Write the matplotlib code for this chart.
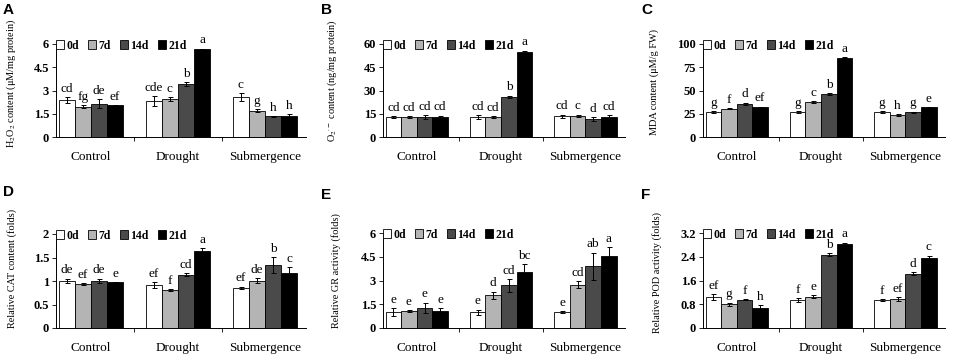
import numpy as np
import matplotlib
matplotlib.use('Agg')
import matplotlib.pyplot as plt
from matplotlib.patches import Patch

plt.rcParams['font.family'] = ['Liberation Serif', 'DejaVu Serif']
plt.rcParams['mathtext.fontset'] = 'stix'

groups = ['Control', 'Drought', 'Submergence']
days = ['0d', '7d', '14d', '21d']
colors = ['#ffffff', '#b4b4b4', '#4a4a4a', '#000000']

# values: rows = days (0d, 7d, 14d, 21d), columns = groups
h2o2 = [[2.38, 2.32, 2.58], [1.96, 2.47, 1.70], [2.15, 3.40, 1.33], [2.04, 5.68, 1.38]]
h2o2_err = [[0.2, 0.3, 0.25], [0.1, 0.12, 0.1], [0.3, 0.12, 0.03], [0.03, 0.02, 0.1]]
h2o2_let = [['cd', 'cde', 'c'], ['fg', 'c', 'g'], ['de', 'b', 'h'], ['ef', 'a', 'h']]

o2 = [[12.9, 12.9, 13.3], [12.9, 12.9, 13.8], [12.9, 26.0, 11.8], [12.9, 54.6, 12.9]]
o2_err = [[0.5, 1.2, 1.2], [0.5, 0.5, 0.6], [1.0, 0.6, 1.2], [0.9, 1.2, 1.2]]
o2_let = [['cd', 'cd', 'cd'], ['cd', 'cd', 'c'], ['cd', 'b', 'd'], ['cd', 'a', 'cd']]

mda = [[26.5, 26.5, 26.5], [30.5, 37.6, 23.7], [35.8, 46.2, 26.5], [31.9, 85.0, 31.9]]
mda_err = [[1.0, 1.0, 1.0], [0.8, 0.8, 0.8], [1.2, 0.8, 0.8], [0.6, 0.5, 0.3]]
mda_let = [['g', 'g', 'g'], ['f', 'c', 'h'], ['d', 'b', 'g'], ['ef', 'a', 'e']]

cat = [[1.00, 0.91, 0.86], [0.94, 0.80, 1.01], [1.00, 1.13, 1.34], [0.97, 1.63, 1.18]]
cat_err = [[0.05, 0.06, 0.02], [0.02, 0.02, 0.05], [0.05, 0.03, 0.17], [0.0, 0.07, 0.12]]
cat_let = [['de', 'ef', 'ef'], ['ef', 'f', 'de'], ['de', 'cd', 'b'], ['e', 'a', 'c']]

gr = [[1.00, 0.98, 1.00], [1.06, 2.08, 2.72], [1.27, 2.70, 3.90], [1.10, 3.54, 4.52]]
gr_err = [[0.25, 0.18, 0.05], [0.05, 0.22, 0.22], [0.32, 0.4, 0.85], [0.15, 0.5, 0.6]]
gr_let = [['e', 'e', 'e'], ['e', 'd', 'cd'], ['e', 'cd', 'ab'], ['e', 'bc', 'a']]

pod = [[1.03, 0.94, 0.94], [0.80, 1.06, 0.97], [0.96, 2.47, 1.83], [0.68, 2.82, 2.35]]
pod_err = [[0.1, 0.06, 0.04], [0.05, 0.04, 0.06], [0.02, 0.04, 0.04], [0.08, 0.05, 0.08]]
pod_let = [['ef', 'f', 'f'], ['g', 'e', 'ef'], ['f', 'b', 'd'], ['h', 'a', 'c']]

panels = [
    ('A', h2o2, h2o2_err, h2o2_let, 'H$_2$O$_2$ content (\u03bcM/mg protein)', [0, 1.5, 3, 4.5, 6], ['0', '1.5', '3', '4.5', '6']),
    ('B', o2, o2_err, o2_let, 'O$_2$$^{\u00b7-}$ content (ng/mg protein)', [0, 15, 30, 45, 60], ['0', '15', '30', '45', '60']),
    ('C', mda, mda_err, mda_let, 'MDA content (\u03bcM/g FW)', [0, 25, 50, 75, 100], ['0', '25', '50', '75', '100']),
    ('D', cat, cat_err, cat_let, 'Relative CAT content (folds)', [0, 0.5, 1, 1.5, 2], ['0', '0.5', '1', '1.5', '2']),
    ('E', gr, gr_err, gr_let, 'Relative GR activity (folds)', [0, 1.5, 3, 4.5, 6], ['0', '1.5', '3', '4.5', '6']),
    ('F', pod, pod_err, pod_let, 'Relative POD activity (folds)', [0, 0.8, 1.6, 2.4, 3.2], ['0', '0.8', '1.6', '2.4', '3.2']),
]

W, H = 964, 357
fig = plt.figure(figsize=(9.64, 3.57), dpi=100)

# axes boxes in pixels: left, top, right, bottom
boxes = [(56, 44, 306, 137), (383, 44, 625, 137), (703, 44, 945, 137),
         (56, 234, 306, 328), (383, 233, 625, 328), (703, 233, 945, 328)]
letter_pos = [(3, 10), (321, 10), (641, 10), (3, 192), (321, 195), (641, 195)]
ylab_x = [-0.152, -0.182, -0.182, -0.156, -0.174, -0.169]
ylab_y = [0.575, 0.6, 0.59, 0.63, 0.6, 0.58]

x = np.arange(len(groups))
bw = 0.185

for i, (tag, vals, errs, lets, ylab, yt, ytl) in enumerate(panels):
    l, t, r, b = boxes[i]
    ax = fig.add_axes([l / W, 1 - b / H, (r - l) / W, (b - t) / H])
    top = yt[-1]
    for j in range(4):
        pos = x + (j - 1.5) * bw
        ax.bar(pos, vals[j], bw, color=colors[j], edgecolor='black', linewidth=0.6,
               yerr=errs[j], error_kw=dict(ecolor='black', elinewidth=0.7, capsize=1.8, capthick=0.7))
        for k in range(3):
            ax.text(pos[k], vals[j][k] + errs[j][k] + top * 0.025, lets[j][k],
                    ha='center', va='bottom', fontsize=9.5)
    ax.set_ylim(0, top)
    ax.set_xlim(-0.4, 2.47)
    ax.set_yticks(yt)
    ax.set_yticklabels(ytl, fontsize=9, fontweight='bold')
    ax.set_xticks(x)
    ax.set_xticklabels(groups, fontsize=9.5)
    ax.set_xticks([0.5, 1.5], minor=True)
    ax.tick_params(axis='x', which='major', length=0, pad=10)
    ax.tick_params(axis='x', which='minor', length=3, direction='out', width=0.6)
    ax.tick_params(axis='y', length=3, direction='out', width=0.6, pad=2)
    for s in ['top', 'right']:
        ax.spines[s].set_visible(False)
    for s in ['left', 'bottom']:
        ax.spines[s].set_linewidth(0.7)
    ax.set_ylabel(ylab, fontsize=7.4)
    ax.yaxis.set_label_coords(ylab_x[i], ylab_y[i])
    handles = [Patch(facecolor=c, edgecolor='black', linewidth=0.6) for c in colors]
    ax.legend(handles, days, loc='upper left', bbox_to_anchor=(-0.01, 1.07), ncol=4, frameon=False,
              prop={'size': 8.5, 'weight': 'bold'}, handlelength=0.7, handleheight=0.8,
              handletextpad=0.2, columnspacing=0.75, borderaxespad=0.1, borderpad=0.1)
    fig.text(letter_pos[i][0] / W, 1 - letter_pos[i][1] / H, tag, fontsize=11, fontweight='bold',
             family='Liberation Sans', ha='left', va='center')

fig.savefig('out.png', dpi=100)
